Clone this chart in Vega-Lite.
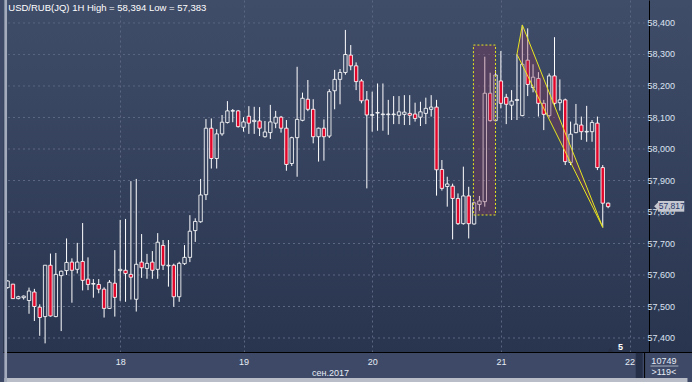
{
  "$schema": "https://vega.github.io/schema/vega-lite/v6.json",
  "width": 689,
  "height": 352,
  "autosize": {"type": "none"},
  "padding": {"left": 3, "top": 0, "right": 0, "bottom": 30},
  "background": "#3d4966",
  "config": {
    "view": {"stroke": null, "fill": {"gradient": "linear", "x1": 0, "y1": 0, "x2": 0, "y2": 1, "stops": [{"offset": 0, "color": "#404d69"}, {"offset": 1, "color": "#29354f"}]}},
    "locale": {"number": {"decimal": ",", "thousands": " ", "grouping": [3], "currency": ["", " ₽"]}},
    "font": "Liberation Sans"
  },
  "datasets": {
    "candles": [
      {"i":0,"o":57.560,"h":57.583,"l":57.557,"c":57.581},
      {"i":1,"o":57.571,"h":57.572,"l":57.524,"c":57.525},
      {"i":2,"o":57.525,"h":57.534,"l":57.523,"c":57.531},
      {"i":3,"o":57.528,"h":57.535,"l":57.522,"c":57.533},
      {"i":4,"o":57.519,"h":57.560,"l":57.477,"c":57.549},
      {"i":5,"o":57.546,"h":57.556,"l":57.454,"c":57.500},
      {"i":6,"o":57.498,"h":57.507,"l":57.407,"c":57.465},
      {"i":7,"o":57.468,"h":57.632,"l":57.383,"c":57.631},
      {"i":8,"o":57.631,"h":57.668,"l":57.468,"c":57.470},
      {"i":9,"o":57.468,"h":57.670,"l":57.466,"c":57.602},
      {"i":10,"o":57.598,"h":57.614,"l":57.422,"c":57.612},
      {"i":11,"o":57.614,"h":57.716,"l":57.600,"c":57.640},
      {"i":12,"o":57.641,"h":57.653,"l":57.512,"c":57.615},
      {"i":13,"o":57.618,"h":57.702,"l":57.605,"c":57.641},
      {"i":14,"o":57.643,"h":57.765,"l":57.551,"c":57.583},
      {"i":15,"o":57.587,"h":57.656,"l":57.552,"c":57.570},
      {"i":16,"o":57.571,"h":57.587,"l":57.528,"c":57.573},
      {"i":17,"o":57.570,"h":57.587,"l":57.542,"c":57.555},
      {"i":18,"o":57.555,"h":57.561,"l":57.465,"c":57.494},
      {"i":19,"o":57.494,"h":57.584,"l":57.492,"c":57.577},
      {"i":20,"o":57.574,"h":57.679,"l":57.468,"c":57.529},
      {"i":21,"o":57.614,"h":57.775,"l":57.518,"c":57.618},
      {"i":22,"o":57.615,"h":57.778,"l":57.515,"c":57.605},
      {"i":23,"o":57.602,"h":57.898,"l":57.522,"c":57.593},
      {"i":24,"o":57.523,"h":57.905,"l":57.484,"c":57.634},
      {"i":25,"o":57.641,"h":57.730,"l":57.591,"c":57.623},
      {"i":26,"o":57.621,"h":57.667,"l":57.588,"c":57.637},
      {"i":27,"o":57.641,"h":57.676,"l":57.588,"c":57.615},
      {"i":28,"o":57.618,"h":57.733,"l":57.588,"c":57.704},
      {"i":29,"o":57.694,"h":57.711,"l":57.616,"c":57.631},
      {"i":30,"o":57.629,"h":57.711,"l":57.563,"c":57.631},
      {"i":31,"o":57.631,"h":57.636,"l":57.499,"c":57.531},
      {"i":32,"o":57.531,"h":57.642,"l":57.515,"c":57.637},
      {"i":33,"o":57.636,"h":57.695,"l":57.632,"c":57.656},
      {"i":34,"o":57.656,"h":57.790,"l":57.641,"c":57.739},
      {"i":35,"o":57.741,"h":57.780,"l":57.705,"c":57.770},
      {"i":36,"o":57.769,"h":57.905,"l":57.766,"c":57.854},
      {"i":37,"o":57.855,"h":58.095,"l":57.838,"c":58.066},
      {"i":38,"o":58.066,"h":58.097,"l":57.938,"c":57.970},
      {"i":39,"o":57.970,"h":58.063,"l":57.938,"c":58.048},
      {"i":40,"o":58.048,"h":58.108,"l":58.042,"c":58.085},
      {"i":41,"o":58.084,"h":58.152,"l":58.081,"c":58.121},
      {"i":42,"o":58.120,"h":58.127,"l":58.085,"c":58.122},
      {"i":43,"o":58.121,"h":58.124,"l":58.068,"c":58.071},
      {"i":44,"o":58.069,"h":58.101,"l":58.055,"c":58.086},
      {"i":45,"o":58.104,"h":58.136,"l":58.048,"c":58.082},
      {"i":46,"o":58.087,"h":58.134,"l":58.048,"c":58.091},
      {"i":47,"o":58.089,"h":58.133,"l":58.041,"c":58.066},
      {"i":48,"o":58.039,"h":58.089,"l":58.036,"c":58.054},
      {"i":49,"o":58.052,"h":58.140,"l":58.032,"c":58.086},
      {"i":50,"o":58.082,"h":58.121,"l":58.066,"c":58.101},
      {"i":51,"o":58.101,"h":58.105,"l":58.052,"c":58.066},
      {"i":52,"o":58.066,"h":58.092,"l":57.931,"c":57.951},
      {"i":53,"o":57.954,"h":58.039,"l":57.946,"c":58.036},
      {"i":54,"o":58.036,"h":58.261,"l":57.912,"c":58.094},
      {"i":55,"o":58.091,"h":58.179,"l":58.088,"c":58.161},
      {"i":56,"o":58.158,"h":58.219,"l":58.120,"c":58.126},
      {"i":57,"o":58.126,"h":58.158,"l":58.018,"c":58.039},
      {"i":58,"o":58.039,"h":58.068,"l":57.960,"c":58.066},
      {"i":59,"o":58.066,"h":58.094,"l":57.963,"c":58.039},
      {"i":60,"o":58.041,"h":58.190,"l":58.035,"c":58.182},
      {"i":61,"o":58.185,"h":58.251,"l":58.126,"c":58.221},
      {"i":62,"o":58.221,"h":58.254,"l":58.142,"c":58.243},
      {"i":63,"o":58.243,"h":58.378,"l":58.236,"c":58.300},
      {"i":64,"o":58.298,"h":58.330,"l":58.250,"c":58.264},
      {"i":65,"o":58.264,"h":58.275,"l":58.187,"c":58.214},
      {"i":66,"o":58.216,"h":58.222,"l":58.145,"c":58.153},
      {"i":67,"o":58.156,"h":58.184,"l":57.875,"c":58.108},
      {"i":68,"o":58.107,"h":58.182,"l":58.055,"c":58.109},
      {"i":69,"o":58.114,"h":58.208,"l":58.058,"c":58.116},
      {"i":70,"o":58.109,"h":58.208,"l":58.058,"c":58.111},
      {"i":71,"o":58.109,"h":58.156,"l":58.045,"c":58.111},
      {"i":72,"o":58.109,"h":58.168,"l":58.079,"c":58.111},
      {"i":73,"o":58.107,"h":58.168,"l":58.079,"c":58.118},
      {"i":74,"o":58.110,"h":58.171,"l":58.076,"c":58.117},
      {"i":75,"o":58.113,"h":58.171,"l":58.076,"c":58.107},
      {"i":76,"o":58.111,"h":58.147,"l":58.087,"c":58.097},
      {"i":77,"o":58.101,"h":58.150,"l":58.073,"c":58.118},
      {"i":78,"o":58.113,"h":58.163,"l":58.079,"c":58.129},
      {"i":79,"o":58.126,"h":58.171,"l":58.103,"c":58.133},
      {"i":80,"o":58.133,"h":58.156,"l":57.852,"c":57.934},
      {"i":81,"o":57.935,"h":57.965,"l":57.868,"c":57.875},
      {"i":82,"o":57.881,"h":57.912,"l":57.817,"c":57.889},
      {"i":83,"o":57.882,"h":57.890,"l":57.713,"c":57.843},
      {"i":84,"o":57.843,"h":57.859,"l":57.759,"c":57.763},
      {"i":85,"o":57.763,"h":57.944,"l":57.760,"c":57.851},
      {"i":86,"o":57.851,"h":57.880,"l":57.716,"c":57.763},
      {"i":87,"o":57.762,"h":57.833,"l":57.760,"c":57.829},
      {"i":88,"o":57.824,"h":57.851,"l":57.804,"c":57.835},
      {"i":89,"o":57.833,"h":58.293,"l":57.817,"c":58.177},
      {"i":90,"o":58.177,"h":58.242,"l":58.087,"c":58.090},
      {"i":91,"o":58.090,"h":58.251,"l":58.088,"c":58.235},
      {"i":92,"o":58.216,"h":58.311,"l":58.129,"c":58.145},
      {"i":93,"o":58.164,"h":58.175,"l":58.079,"c":58.142},
      {"i":94,"o":58.139,"h":58.187,"l":58.092,"c":58.152},
      {"i":95,"o":58.154,"h":58.301,"l":58.092,"c":58.157},
      {"i":96,"o":58.106,"h":58.394,"l":58.104,"c":58.269},
      {"i":97,"o":58.282,"h":58.383,"l":58.168,"c":58.205},
      {"i":98,"o":58.195,"h":58.269,"l":58.180,"c":58.228},
      {"i":99,"o":58.224,"h":58.244,"l":58.103,"c":58.145},
      {"i":100,"o":58.145,"h":58.156,"l":58.060,"c":58.110},
      {"i":101,"o":58.106,"h":58.240,"l":58.100,"c":58.232},
      {"i":102,"o":58.232,"h":58.355,"l":58.135,"c":58.145},
      {"i":103,"o":58.147,"h":58.221,"l":58.122,"c":58.156},
      {"i":104,"o":58.156,"h":58.160,"l":57.949,"c":57.960},
      {"i":105,"o":57.957,"h":58.087,"l":57.949,"c":58.047},
      {"i":106,"o":58.052,"h":58.143,"l":58.050,"c":58.079},
      {"i":107,"o":58.076,"h":58.103,"l":58.029,"c":58.055},
      {"i":108,"o":58.054,"h":58.137,"l":58.023,"c":58.056},
      {"i":109,"o":58.055,"h":58.092,"l":58.023,"c":58.084},
      {"i":110,"o":58.082,"h":58.103,"l":57.933,"c":57.941},
      {"i":111,"o":57.941,"h":57.949,"l":57.751,"c":57.828},
      {"i":112,"o":57.828,"h":57.830,"l":57.812,"c":57.817}
    ],
    "grid": [{"g":57.4},{"g":57.5},{"g":57.6},{"g":57.7},{"g":57.8},{"g":57.9},{"g":58.0},{"g":58.1},{"g":58.2},{"g":58.3},{"g":58.4}],
    "triArea": [{"i":95,"t":58.3006,"b":58.3006},{"i":96,"t":58.3937,"b":58.2663},{"i":111,"t":57.7513,"b":57.7513}],
    "triLine": [{"i":95,"p":58.3006,"k":0},{"i":96,"p":58.3937,"k":1},{"i":111,"p":57.7513,"k":2},{"i":95,"p":58.3006,"k":3}]
  },
  "layer": [
    {
      "data": {"name": "grid"},
      "mark": {"type": "rule", "color": "#5a6682", "strokeDash": [2, 3], "strokeWidth": 1},
      "encoding": {
        "x": {"datum": 0.08, "type": "quantitative"},
        "x2": {"datum": 118.8},
        "y": {"field": "g", "type": "quantitative"}
      }
    },
    {
      "data": {"name": "grid"},
      "mark": {"type": "text", "align": "left", "baseline": "middle", "color": "#dce3f2", "fontSize": 9, "font": "Liberation Sans"},
      "encoding": {
        "x": {"datum": 119.33, "type": "quantitative"},
        "y": {"field": "g", "type": "quantitative"},
        "text": {"field": "g", "type": "quantitative", "format": ".3f"}
      }
    },
    {
      "data": {"name": "candles"},
      "transform": [{"filter": "datum.c < datum.o"}],
      "mark": {"type": "rule", "color": "#ffffff", "strokeWidth": 1, "clip": true},
      "encoding": {
        "x": {"field": "i", "type": "quantitative",
          "scale": {"domain": [0.08, 126.71], "nice": false, "zero": false},
          "axis": {"values": [21, 44, 68, 92, 116],
            "labelExpr": "datum.value == 21 ? '18' : datum.value == 44 ? '19' : datum.value == 68 ? '20' : datum.value == 92 ? '21' : '22'",
            "grid": true, "gridColor": "#5a6682", "gridDash": [2, 3], "gridWidth": 1,
            "ticks": false, "domain": true, "domainColor": "#000000", "domainWidth": 1,
            "labelColor": "#e6ecf6", "labelFontSize": 9, "labelFont": "Liberation Sans", "labelPadding": 9, "labelBaseline": "middle",
            "labelFlush": false, "labelOverlap": false,
            "title": "сен.2017", "titleFontSize": 9, "titleFontWeight": "normal", "titleFont": "Liberation Sans", "titleColor": "#e6ecf6",
            "titleX": 327, "titleY": 20, "titleBaseline": "middle", "titleAlign": "center"}},
        "y": {"field": "h", "type": "quantitative",
          "scale": {"domain": [57.3556, 58.473], "nice": false, "zero": false},
          "axis": {"orient": "right", "offset": -43, "values": [57.4, 58.4], "labels": false,
            "grid": false, "ticks": false, "domain": true, "domainColor": "#000000", "domainWidth": 1, "title": null}},
        "y2": {"field": "l"}
      }
    },
    {
      "data": {"name": "candles"},
      "transform": [{"filter": "datum.c >= datum.o"}],
      "mark": {"type": "rule", "color": "#ffffff", "strokeWidth": 1, "clip": true},
      "encoding": {
        "x": {"field": "i", "type": "quantitative"},
        "y": {"field": "h", "type": "quantitative"},
        "y2": {"field": "c"}
      }
    },
    {
      "data": {"name": "candles"},
      "transform": [{"filter": "datum.c >= datum.o"}],
      "mark": {"type": "rule", "color": "#ffffff", "strokeWidth": 1, "clip": true},
      "encoding": {
        "x": {"field": "i", "type": "quantitative"},
        "y": {"field": "o", "type": "quantitative"},
        "y2": {"field": "l"}
      }
    },
    {
      "data": {"name": "candles"},
      "mark": {"type": "bar", "width": 3.4, "stroke": "#ffffff", "strokeWidth": 0.85, "clip": true},
      "encoding": {
        "x": {"field": "i", "type": "quantitative"},
        "y": {"field": "o", "type": "quantitative"},
        "y2": {"field": "c"},
        "fill": {"condition": {"test": "datum.c < datum.o", "value": "#e2062a"}, "value": "transparent"}
      }
    },
    {
      "data": {"values": [{"a": 86.88, "b": 91.0, "p1": 57.7905, "p2": 58.330}]},
      "mark": {"type": "rect", "fill": "#8c3658", "fillOpacity": 0.32, "stroke": "#e6e61e", "strokeDash": [2, 2], "strokeWidth": 1},
      "encoding": {
        "x": {"field": "a", "type": "quantitative"},
        "x2": {"field": "b"},
        "y": {"field": "p1", "type": "quantitative"},
        "y2": {"field": "p2"}
      }
    },
    {
      "data": {"name": "triArea"},
      "mark": {"type": "area", "color": "#8c3658", "fillOpacity": 0.32},
      "encoding": {
        "x": {"field": "i", "type": "quantitative"},
        "y": {"field": "t", "type": "quantitative"},
        "y2": {"field": "b"}
      }
    },
    {
      "data": {"name": "triLine"},
      "mark": {"type": "line", "color": "#e6e61e", "strokeWidth": 1},
      "encoding": {
        "x": {"field": "i", "type": "quantitative"},
        "y": {"field": "p", "type": "quantitative"},
        "order": {"field": "k"}
      }
    },
    {
      "data": {"values": [{"t": "USD/RUB(JQ) 1H High = 58,394 Low = 57,383"}]},
      "mark": {"type": "text", "align": "left", "baseline": "alphabetic", "color": "#ffffff", "fontSize": 9.5, "font": "Liberation Sans"},
      "encoding": {
        "x": {"datum": 0.13, "type": "quantitative"},
        "y": {"datum": 58.4366, "type": "quantitative"},
        "text": {"field": "t"}
      }
    },
    {
      "data": {"values": [{}]},
      "mark": {"type": "rect", "fill": "#c4c7cf"},
      "encoding": {
        "x": {"datum": 121.3, "type": "quantitative"},
        "x2": {"datum": 126.2},
        "y": {"datum": 57.835, "type": "quantitative"},
        "y2": {"datum": 57.801}
      }
    },
    {
      "data": {"values": [{}]},
      "mark": {"type": "point", "shape": "M -0.5 0 L 0.5 -1 L 0.5 1 Z", "filled": true, "fill": "#c4c7cf", "opacity": 1, "size": 100},
      "encoding": {
        "x": {"datum": 121.05, "type": "quantitative"},
        "y": {"datum": 57.818, "type": "quantitative"}
      }
    },
    {
      "data": {"values": [{"p": 57.817}]},
      "mark": {"type": "text", "align": "left", "baseline": "middle", "color": "#27386b", "fontSize": 8.5, "font": "Liberation Sans"},
      "encoding": {
        "x": {"datum": 121.45, "type": "quantitative"},
        "y": {"datum": 57.818, "type": "quantitative"},
        "text": {"field": "p", "type": "quantitative", "format": ".3f"}
      }
    },
    {
      "data": {"values": [{}]},
      "mark": {"type": "rect", "fill": "#252f47"},
      "encoding": {
        "x": {"datum": 117.15, "type": "quantitative"},
        "x2": {"datum": 118.44},
        "y": {"datum": 57.353, "type": "quantitative"},
        "y2": {"datum": 57.273}
      }
    },
    {
      "data": {"values": [{}]},
      "mark": {"type": "rule", "color": "#000000", "strokeWidth": 1},
      "encoding": {
        "x": {"datum": 118.8, "type": "quantitative"},
        "y": {"datum": 57.3556, "type": "quantitative"},
        "y2": {"datum": 57.273}
      }
    },
    {
      "data": {"values": [{}]},
      "mark": {"type": "rule", "color": "#a8b0c0", "strokeWidth": 1},
      "encoding": {
        "x": {"datum": 119.9, "type": "quantitative"},
        "x2": {"datum": 125.1},
        "y": {"datum": 57.3111, "type": "quantitative"}
      }
    },
    {
      "data": {"values": [{"t": "10749", "p": 57.3279}, {"t": ">119<", "p": 57.2911}]},
      "mark": {"type": "text", "align": "center", "baseline": "middle", "color": "#e6ecf6", "fontSize": 9, "font": "Liberation Sans"},
      "encoding": {
        "x": {"datum": 122.4, "type": "quantitative"},
        "y": {"field": "p", "type": "quantitative"},
        "text": {"field": "t"}
      }
    },
    {
      "data": {"values": [{"t": "5", "p": 57.3705}]},
      "mark": {"type": "text", "align": "center", "baseline": "middle", "color": "#ffffff", "fontSize": 9, "fontWeight": "bold", "font": "Liberation Sans"},
      "encoding": {
        "x": {"datum": 114.3, "type": "quantitative"},
        "y": {"field": "p", "type": "quantitative"},
        "text": {"field": "t"}
      }
    },
    {
      "data": {"values": [{}]},
      "mark": {"type": "point", "shape": "triangle-up", "filled": true, "fill": "#283046", "opacity": 1, "size": 28},
      "encoding": {
        "x": {"datum": 112.45, "type": "quantitative"},
        "y": {"datum": 57.3635, "type": "quantitative"}
      }
    },
    {
      "data": {"values": [{}]},
      "mark": {"type": "rect", "fill": "#b8bdc8"},
      "encoding": {
        "x": {"datum": -0.6, "type": "quantitative"},
        "x2": {"datum": 126.8},
        "y": {"datum": 57.273, "type": "quantitative"},
        "y2": {"datum": 57.258}
      }
    },
    {
      "data": {"values": [{}]},
      "mark": {"type": "rect", "fill": "#a3abbc"},
      "encoding": {
        "x": {"datum": -0.6, "type": "quantitative"},
        "x2": {"datum": -0.1},
        "y": {"datum": 58.48, "type": "quantitative"},
        "y2": {"datum": 57.258}
      }
    }
  ]
}
